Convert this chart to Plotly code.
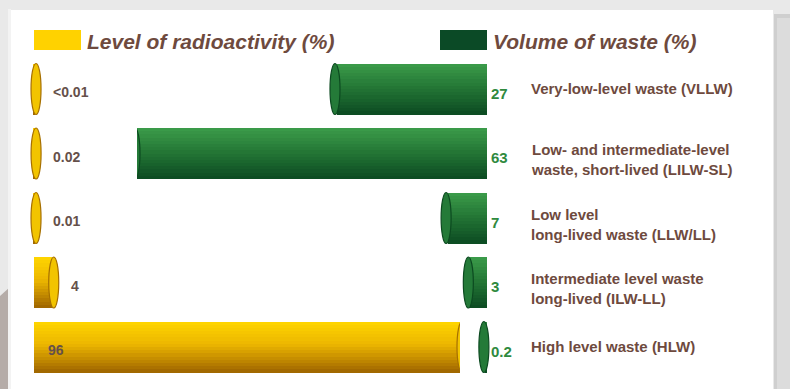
import plotly.graph_objects as go

# ---- data ----
categories = [
    "Very-low-level waste (VLLW)",
    "Low- and intermediate-level<br>waste, short-lived (LILW-SL)",
    "Low level<br>long-lived waste (LLW/LL)",
    "Intermediate level waste<br>long-lived (ILW-LL)",
    "High level waste (HLW)",
]
radioactivity = [0.01, 0.02, 0.01, 4, 96]
radioactivity_labels = ["<0.01", "0.02", "0.01", "4", "96"]
volume = [27, 63, 7, 3, 0.2]
volume_labels = ["27", "63", "7", "3", "0.2"]
series_names = ["Level of radioactivity (%)", "Volume of waste (%)"]

W, H = 790, 389
BROWN = "#6e4a3e"
VAL_BROWN = "#65504a"
GREEN_TXT = "#2f8a3e"

def lerp(c1, c2, t):
    return tuple(round(a + (b - a) * t) for a, b in zip(c1, c2))

def grad(stops, t):
    for (p0, c0), (p1, c1) in zip(stops, stops[1:]):
        if t <= p1:
            return lerp(c0, c1, (t - p0) / (p1 - p0))
    return stops[-1][1]

yellow_stops = [(0, (255, 214, 0)), (0.45, (236, 182, 0)), (1, (158, 100, 0))]
green_stops = [(0, (60, 156, 74)), (0.5, (34, 116, 52)), (1, (12, 74, 34))]

idx = list(range(len(categories)))
BW = 0.79  # bar thickness (category units)
N = 16

fig = go.Figure()
for k in range(N):
    t = (k + 0.5) / N
    off = -BW / 2 + k * BW / N
    cy = "rgb(%d,%d,%d)" % grad(yellow_stops, t)
    cg = "rgb(%d,%d,%d)" % grad(green_stops, t)
    fig.add_trace(go.Bar(
        y=idx, x=radioactivity, orientation="h", xaxis="x", yaxis="y",
        width=BW / N + 0.004, offset=off, marker=dict(color=cy, line_width=0),
        showlegend=False, hoverinfo="skip", name=series_names[0]))
    fig.add_trace(go.Bar(
        y=idx, x=volume, orientation="h", xaxis="x2", yaxis="y",
        width=BW / N + 0.004, offset=off, marker=dict(color=cg, line_width=0),
        showlegend=False, hoverinfo="skip", name=series_names[1]))

shapes = []
# background card
shapes.append(dict(type="rect", xref="paper", yref="paper", x0=0, x1=1, y0=0, y1=1,
                   fillcolor="#e9e9e9", line_width=0, layer="below"))
shapes.append(dict(type="rect", xref="paper", yref="paper", x0=774 / W, x1=1, y0=0, y1=1 - 14 / H,
                   fillcolor="#cfcfcf", line_width=0, layer="below"))
shapes.append(dict(type="rect", xref="paper", yref="paper", x0=777 / W, x1=1, y0=0, y1=1 - 18 / H,
                   fillcolor="#dcdcdc", line_width=0, layer="below"))
shapes.append(dict(type="path", xref="paper", yref="paper",
                   path="M 0 0 L 0 %f L %f %f L %f 0 Z" % (1 - 296 / H, 10 / W, 1 - 287 / H, 10 / W),
                   fillcolor="#b5aca8", line_width=0, layer="below"))
shapes.append(dict(type="rect", xref="paper", yref="paper", x0=8 / W, x1=11 / W, y0=0, y1=1 - 9 / H,
                   fillcolor="#f3f3f3", line_width=0, layer="below"))
shapes.append(dict(type="rect", xref="paper", yref="paper", x0=11 / W, x1=773 / W, y0=0, y1=1 - 10 / H,
                   fillcolor="#ffffff", line_width=0, layer="below"))
# legend swatches
shapes.append(dict(type="rect", xref="paper", yref="paper", x0=34 / W, x1=81 / W,
                   y0=1 - 50 / H, y1=1 - 30 / H, fillcolor="#ffd200", line_width=0))
shapes.append(dict(type="rect", xref="paper", yref="paper", x0=440 / W, x1=487 / W,
                   y0=1 - 50 / H, y1=1 - 30 / H, fillcolor="#0b4a26", line_width=0))
# cylinder caps anchored at the data values
for i in idx:
    shapes.append(dict(type="circle", xref="x", yref="y", xsizemode="pixel",
                       xanchor=radioactivity[i], x0=-3, x1=7,
                       y0=i - BW / 2, y1=i + BW / 2,
                       fillcolor="#f2c400", line=dict(color="#a66f00", width=1.2)))
    shapes.append(dict(type="circle", xref="x2", yref="y", xsizemode="pixel",
                       xanchor=volume[i], x0=-7, x1=3,
                       y0=i - BW / 2, y1=i + BW / 2,
                       fillcolor="#247a38", line=dict(color="#0c4a20", width=1.2)))

annotations = []
annotations.append(dict(xref="paper", yref="paper", x=85 / W, y=1 - 41 / H, xanchor="left",
                        yanchor="middle", showarrow=False,
                        text="<b><i>%s</i></b>" % series_names[0],
                        font=dict(family="Liberation Sans", size=21, color=BROWN)))
annotations.append(dict(xref="paper", yref="paper", x=491 / W, y=1 - 41 / H, xanchor="left",
                        yanchor="middle", showarrow=False,
                        text="<b><i>%s</i></b>" % series_names[1],
                        font=dict(family="Liberation Sans", size=21, color=BROWN)))
for i in idx:
    inside = radioactivity[i] >= 50
    annotations.append(dict(xref="x", yref="y", x=0 if inside else radioactivity[i], y=i,
                            xanchor="left", yanchor="middle",
                            xshift=12 if inside else 17, yshift=-3, showarrow=False,
                            text="<b>%s</b>" % radioactivity_labels[i],
                            font=dict(family="Liberation Sans", size=14, color=VAL_BROWN)))
    annotations.append(dict(xref="x2", yref="y", x=0, y=i, xanchor="left", yanchor="middle",
                            xshift=2, yshift=-4, showarrow=False,
                            text="<b>%s</b>" % volume_labels[i],
                            font=dict(family="Liberation Sans", size=15, color=GREEN_TXT)))
    two = "<br>" in categories[i]
    annotations.append(dict(xref="paper", yref="y", x=529 / W, y=i, xanchor="left", yanchor="middle",
                            align="left", yshift=-6 if two else 1, showarrow=False,
                            text="<b>%s</b>" % categories[i],
                            font=dict(family="Liberation Sans", size=15, color=BROWN)))

c0 = 89.0
pitch = 64.5
fig.update_layout(
    width=W, height=H, margin=dict(l=0, r=0, t=0, b=0),
    paper_bgcolor="#e9e9e9", plot_bgcolor="rgba(0,0,0,0)",
    barmode="overlay", bargap=0,
    xaxis=dict(domain=[26 / W, 460 / W], range=[-1.8, 96], visible=False, fixedrange=True),
    xaxis2=dict(domain=[137 / W, 492 / W], range=[63, -0.9], visible=False, anchor="y", fixedrange=True),
    yaxis=dict(domain=[0, 1], range=[(H - c0) / pitch, -c0 / pitch], visible=False, fixedrange=True),
    shapes=shapes, annotations=annotations,
)
fig.write_html("out.html")
